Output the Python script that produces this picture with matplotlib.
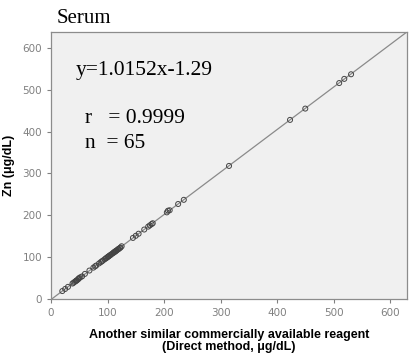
import matplotlib
matplotlib.use("Agg")
import matplotlib.pyplot as plt
import numpy as np

# data (direct method vs. this reagent, ug/dL)
x_direct = [20, 25, 30, 38, 40, 42, 44, 45, 46, 48, 49, 50, 52, 55, 60, 68,
            75, 78, 80, 85, 88, 90, 92, 95, 97, 98, 100, 101, 102, 103, 105,
            106, 108, 110, 111, 112, 113, 114, 115, 116, 118, 119, 120, 122,
            123, 125, 145, 150, 155, 165, 172, 175, 178, 180, 205, 207, 210,
            225, 235, 315, 423, 450, 510, 519, 531]
y_zn = [19, 24, 29, 37, 39, 41, 43, 44, 45, 47, 49, 50, 52, 54, 60, 68,
        75, 78, 80, 85, 88, 90, 92, 95, 97, 98, 100, 101, 102, 103, 105,
        106, 108, 110, 111, 112, 113, 114, 115, 116, 118, 119, 120, 122,
        123, 126, 146, 151, 156, 166, 173, 176, 179, 181, 207, 211, 212,
        227, 237, 318, 428, 455, 516, 526, 537]
slope, intercept = 1.0152, -1.29
ticks = [0, 100, 200, 300, 400, 500, 600]

GRAY = "#808080"

fig = plt.figure(figsize=(4.10, 3.58), dpi=100)
ax = fig.add_axes([0.1244, 0.1648, 0.8683, 0.7458])
ax.set_facecolor("#f0f0f0")
ax.set_xlim(0, 630)
ax.set_ylim(0, 638)

xl = np.array([0, 630])
ax.plot(xl, slope * xl + intercept, color="#8a8a8a", lw=0.9, zorder=2)
ax.scatter(x_direct, y_zn, s=13, facecolors="none", edgecolors="#444444",
           linewidths=0.7, zorder=3)

ax.set_xticks(ticks)
ax.set_yticks(ticks)
ax.tick_params(colors=GRAY, labelsize=7.5, length=3, width=0.8, direction="out")
for s in ax.spines.values():
    s.set_color("#8c8c8c")
    s.set_linewidth(0.9)

ax.set_xlabel("Another similar commercially available reagent\n(Direct method, μg/dL)",
              fontsize=9, fontweight="bold", family="Liberation Sans",
              linespacing=1.0, labelpad=8)
ax.set_ylabel("Zn (μg/dL)", fontsize=9, fontweight="bold",
              family="Liberation Sans", labelpad=5)

serif = "Liberation Serif"
fig.text(0.137, 0.948, "Serum", fontsize=15, family=serif, va="center")
ax.text(44, 547, "y=1.0152x-1.29", fontsize=15.5, family=serif, va="center")
ax.text(60, 432, "r   = 0.9999", fontsize=15.5, family=serif, va="center")
ax.text(60, 372, "n  = 65", fontsize=15.5, family=serif, va="center")

fig.savefig("out.png", dpi=100, facecolor="white")
